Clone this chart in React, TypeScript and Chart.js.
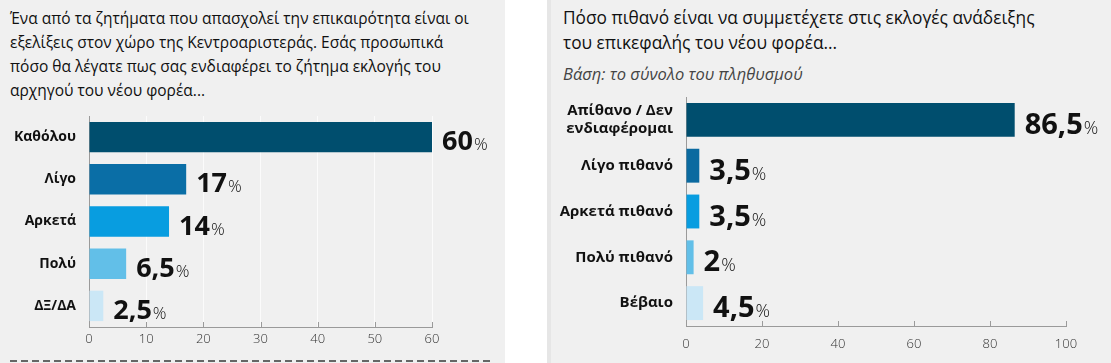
import React, { useEffect, useRef } from "react";
import { Chart, registerables } from "chart.js";

Chart.register(...registerables);

const FONT = '"Open Sans", "Noto Sans", sans-serif';

// ---- Left chart data ----
const leftTitleLines = [
  "Ένα από τα ζητήματα που απασχολεί την επικαιρότητα είναι οι",
  "εξελίξεις στον χώρο της Κεντροαριστεράς. Εσάς προσωπικά",
  "πόσο θα λέγατε πως σας ενδιαφέρει το ζήτημα εκλογής του",
  "αρχηγού του νέου φορέα...",
];
const leftCategories = ["Καθόλου", "Λίγο", "Αρκετά", "Πολύ", "ΔΞ/ΔΑ"];
const leftValues = [60, 17, 14, 6.5, 2.5];
const leftColors = ["#004e6e", "#0a6ea6", "#089de0", "#62bfe8", "#cbe7f6"];
const leftMax = 60;
const leftStep = 10;

// ---- Right chart data ----
const rightTitleLines = [
  "Πόσο πιθανό είναι να συμμετέχετε στις εκλογές ανάδειξης",
  "του επικεφαλής του νέου φορέα...",
];
const rightSubtitle = "Βάση: το σύνολο του πληθυσμού";
const rightCategories = [
  ["Απίθανο / Δεν", "ενδιαφέρομαι"],
  "Λίγο πιθανό",
  "Αρκετά πιθανό",
  "Πολύ πιθανό",
  "Βέβαιο",
];
const rightValues = [86.5, 3.5, 3.5, 2, 4.5];
const rightColors = ["#004e6e", "#0b6aa0", "#089de0", "#62bfe8", "#cbe7f6"];
const rightMax = 100;
const rightStep = 20;

const fmt = (v: number) => String(v).replace(".", ",");

const makeValueLabelPlugin = (numSize: number, pctSize: number) => ({
  id: "valueLabels",
  afterDatasetsDraw(chart: any) {
    const ctx = chart.ctx;
    const meta = chart.getDatasetMeta(0);
    const ds = chart.data.datasets[0];
    meta.data.forEach((bar: any, i: number) => {
      const txt = fmt(ds.data[i] as number);
      const x = bar.x + 10;
      const y = bar.y + Math.round(numSize * 0.47);
      ctx.save();
      ctx.fillStyle = "#111";
      ctx.textBaseline = "alphabetic";
      ctx.textAlign = "left";
      ctx.font = `700 ${numSize}px ${FONT}`;
      ctx.fillText(txt, x, y);
      const w = ctx.measureText(txt).width;
      ctx.font = `300 ${pctSize}px ${FONT}`;
      ctx.fillText("%", x + w + 1, y);
      ctx.restore();
    });
  },
});

const tickMarkPlugin = {
  id: "tickMarks",
  afterDraw(chart: any) {
    const ctx = chart.ctx;
    const xs = chart.scales.x;
    const bottom = chart.chartArea.bottom;
    ctx.save();
    ctx.strokeStyle = "#9a9a9a";
    ctx.lineWidth = 1;
    xs.ticks.forEach((t: any, i: number) => {
      const px = Math.round(xs.getPixelForTick(i)) + 0.5;
      ctx.beginPath();
      ctx.moveTo(px, bottom);
      ctx.lineTo(px, bottom - 5);
      ctx.stroke();
    });
    ctx.restore();
  },
};

type BarProps = {
  width: number;
  height: number;
  labels: any[];
  values: number[];
  colors: string[];
  max: number;
  step: number;
  yWidth: number;
  xHeight: number;
  padTop: number;
  padRight: number;
  barPct: number;
  tickPad: number;
  gridColor: string;
  labelSize: number;
  numSize: number;
  pctSize: number;
};

function BarChart(p: BarProps) {
  const ref = useRef<HTMLCanvasElement | null>(null);
  useEffect(() => {
    if (!ref.current) return;
    const chart = new Chart(ref.current, {
      type: "bar",
      data: {
        labels: p.labels,
        datasets: [
          {
            data: p.values,
            backgroundColor: p.colors,
            borderWidth: 0,
            categoryPercentage: 1,
            barPercentage: p.barPct,
          },
        ],
      },
      options: {
        indexAxis: "y",
        animation: false,
        responsive: false,
        devicePixelRatio: 1,
        layout: { padding: { top: p.padTop, right: p.padRight, left: 0, bottom: 0 } },
        plugins: { legend: { display: false }, tooltip: { enabled: false } },
        scales: {
          x: {
            min: 0,
            max: p.max,
            ticks: {
              stepSize: p.step,
              color: "#333",
              padding: p.tickPad,
              font: { family: FONT, size: 13, weight: 300 },
            },
            grid: { color: p.gridColor, drawTicks: false, lineWidth: 1 },
            border: { display: true, color: "#9a9a9a" },
            afterFit: (s: any) => {
              s.height = p.xHeight;
              s.paddingLeft = 0;
              s.paddingRight = 0;
            },
          },
          y: {
            ticks: {
              color: "#111",
              padding: 13,
              font: { family: FONT, size: p.labelSize, weight: "bold" },
            },
            grid: { display: false, drawTicks: false },
            border: { display: true, color: "#9a9a9a" },
            afterFit: (s: any) => {
              s.width = p.yWidth;
              s.paddingTop = 0;
              s.paddingBottom = 0;
            },
          },
        },
      },
      plugins: [makeValueLabelPlugin(p.numSize, p.pctSize), tickMarkPlugin],
    } as any);
    return () => chart.destroy();
  }, []);
  return <canvas ref={ref} width={p.width} height={p.height} style={{ width: p.width, height: p.height, display: "block" }} />;
}

export default function App() {
  return (
    <div
      style={{
        position: "absolute",
        left: 0,
        top: 0,
        width: 1111,
        height: 363,
        background: "#ffffff",
        overflow: "hidden",
        fontFamily: FONT,
      }}
    >
      {/* Left panel */}
      <div style={{ position: "absolute", left: 0, top: 0, width: 505, height: 363, background: "#f0f0f0" }}>
        <div
          style={{
            position: "absolute",
            left: 10,
            top: 6,
            fontSize: 15.5,
            fontWeight: 500,
            lineHeight: "24px",
            color: "#111",
            whiteSpace: "nowrap",
          }}
        >
          {leftTitleLines.map((l, i) => (
            <div key={i}>{l}</div>
          ))}
        </div>
        <div style={{ position: "absolute", left: 0, top: 100 }}>
          <BarChart
            width={505}
            height={250}
            labels={leftCategories}
            values={leftValues}
            colors={leftColors}
            max={leftMax}
            step={leftStep}
            yWidth={89}
            xHeight={23}
            padTop={16}
            padRight={73}
            barPct={0.72}
            tickPad={4}
            gridColor="rgba(255,255,255,0.7)"
            labelSize={14}
            numSize={27}
            pctSize={17}
          />
        </div>
        <div
          style={{
            position: "absolute",
            left: 10,
            top: 360,
            width: 480,
            height: 2,
            background: "repeating-linear-gradient(to right, #666 0px, #666 7px, transparent 7px, transparent 11px)",
          }}
        />
      </div>

      {/* Right panel */}
      <div
        style={{
          position: "absolute",
          left: 547,
          top: 0,
          width: 564,
          height: 363,
          background: "#f0f0f0",
          borderLeft: "4px solid #e6e6e6",
          boxSizing: "border-box",
        }}
      >
        <div
          style={{
            position: "absolute",
            left: 12,
            top: 5,
            fontSize: 17.3,
            fontWeight: 500,
            lineHeight: "25px",
            color: "#111",
            whiteSpace: "nowrap",
          }}
        >
          {rightTitleLines.map((l, i) => (
            <div key={i}>{l}</div>
          ))}
        </div>
        <div
          style={{
            position: "absolute",
            left: 12,
            top: 62,
            fontSize: 16.5,
            lineHeight: "24px",
            fontStyle: "italic",
            color: "#444",
            whiteSpace: "nowrap",
          }}
        >
          {rightSubtitle}
        </div>
        <div style={{ position: "absolute", left: 0, top: 90 }}>
          <BarChart
            width={560}
            height={265}
            labels={rightCategories}
            values={rightValues}
            colors={rightColors}
            max={rightMax}
            step={rightStep}
            yWidth={135}
            xHeight={29}
            padTop={7}
            padRight={45}
            barPct={0.74}
            tickPad={10}
            gridColor="rgba(0,0,0,0)"
            labelSize={15}
            numSize={29}
            pctSize={18}
          />
        </div>
      </div>
    </div>
  );
}
